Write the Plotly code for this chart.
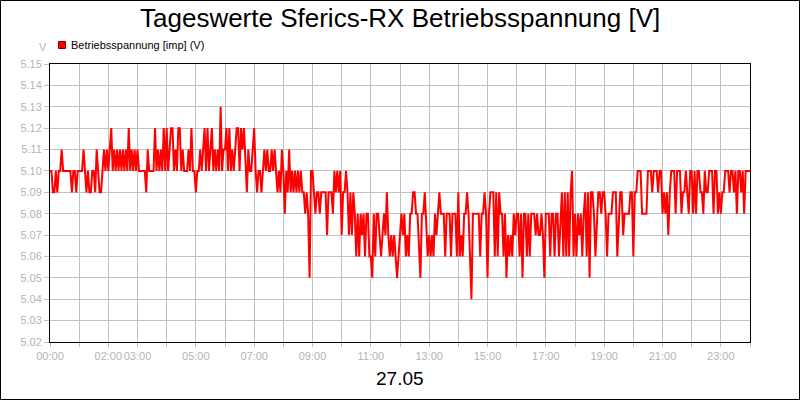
import plotly.graph_objects as go

# ---- data (3-minute samples, 00:00 .. 24:00), one list per hour ----
h00 = [5.10,5.10,5.09,5.09,5.10,5.09,5.10,5.10,5.11,5.10,5.10,5.10,5.10,5.10,5.10,5.09,5.10,5.10,5.09,5.10]
h01 = [5.10,5.10,5.10,5.11,5.10,5.09,5.10,5.09,5.09,5.10,5.10,5.09,5.11,5.10,5.09,5.09,5.10,5.11,5.10,5.11]
h02 = [5.10,5.11,5.12,5.10,5.11,5.10,5.11,5.10,5.11,5.10,5.11,5.10,5.11,5.10,5.12,5.10,5.11,5.10,5.11,5.10]
h03 = [5.11,5.10,5.10,5.10,5.10,5.10,5.09,5.11,5.10,5.10,5.10,5.10,5.12,5.10,5.11,5.10,5.11,5.10,5.12,5.10]
h04 = [5.12,5.10,5.11,5.12,5.12,5.10,5.11,5.10,5.12,5.12,5.10,5.11,5.10,5.10,5.10,5.11,5.10,5.12,5.10,5.10]
h05 = [5.09,5.10,5.10,5.11,5.10,5.11,5.12,5.10,5.12,5.10,5.11,5.12,5.10,5.11,5.10,5.11,5.10,5.13,5.10,5.11]
h06 = [5.11,5.12,5.10,5.12,5.10,5.11,5.10,5.11,5.12,5.12,5.10,5.12,5.11,5.12,5.10,5.09,5.11,5.10,5.10,5.11]
h07 = [5.12,5.10,5.09,5.10,5.10,5.09,5.10,5.11,5.10,5.11,5.10,5.10,5.11,5.10,5.11,5.10,5.09,5.10,5.09,5.11]
h08 = [5.10,5.08,5.10,5.09,5.11,5.09,5.10,5.09,5.10,5.09,5.10,5.09,5.10,5.09,5.09,5.08,5.09,5.08,5.05,5.10]
h09 = [5.10,5.09,5.08,5.09,5.09,5.08,5.09,5.09,5.09,5.09,5.07,5.09,5.09,5.09,5.08,5.10,5.09,5.10,5.09,5.10]
h10 = [5.07,5.09,5.09,5.10,5.09,5.07,5.09,5.07,5.09,5.08,5.06,5.08,5.06,5.08,5.07,5.08,5.06,5.08,5.08,5.06]
h11 = [5.06,5.05,5.08,5.06,5.08,5.08,5.07,5.06,5.07,5.08,5.07,5.09,5.07,5.06,5.07,5.06,5.07,5.06,5.05,5.06]
h12 = [5.07,5.08,5.07,5.08,5.06,5.07,5.06,5.08,5.08,5.09,5.09,5.08,5.08,5.06,5.05,5.08,5.08,5.09,5.07,5.06]
h13 = [5.07,5.06,5.07,5.06,5.08,5.07,5.08,5.09,5.08,5.08,5.08,5.06,5.08,5.08,5.08,5.06,5.08,5.08,5.08,5.06]
h14 = [5.09,5.06,5.07,5.06,5.08,5.08,5.09,5.08,5.06,5.04,5.08,5.08,5.08,5.08,5.08,5.06,5.08,5.08,5.09,5.08]
h15 = [5.05,5.08,5.09,5.09,5.09,5.06,5.09,5.06,5.09,5.08,5.08,5.06,5.08,5.05,5.07,5.06,5.07,5.06,5.08,5.07]
h16 = [5.08,5.08,5.06,5.08,5.05,5.08,5.08,5.06,5.08,5.06,5.08,5.08,5.08,5.07,5.08,5.07,5.07,5.08,5.07,5.05]
h17 = [5.08,5.08,5.08,5.06,5.08,5.08,5.06,5.08,5.08,5.06,5.08,5.09,5.06,5.09,5.06,5.09,5.06,5.09,5.10,5.06]
h18 = [5.08,5.06,5.08,5.07,5.08,5.06,5.08,5.09,5.06,5.09,5.05,5.09,5.09,5.08,5.06,5.08,5.09,5.09,5.08,5.09]
h19 = [5.09,5.08,5.06,5.08,5.08,5.08,5.09,5.09,5.09,5.06,5.08,5.09,5.09,5.07,5.08,5.08,5.08,5.08,5.09,5.09]
h20 = [5.06,5.09,5.09,5.10,5.10,5.10,5.08,5.08,5.08,5.08,5.10,5.10,5.10,5.09,5.10,5.10,5.10,5.09,5.10,5.10]
h21 = [5.08,5.09,5.08,5.09,5.07,5.09,5.10,5.10,5.10,5.08,5.10,5.10,5.10,5.08,5.09,5.09,5.10,5.09,5.08,5.10]
h22 = [5.10,5.08,5.10,5.08,5.10,5.10,5.09,5.09,5.08,5.10,5.09,5.09,5.10,5.10,5.10,5.08,5.10,5.10,5.08,5.09]
h23 = [5.08,5.09,5.09,5.10,5.10,5.10,5.09,5.10,5.10,5.09,5.10,5.08,5.10,5.10,5.09,5.10,5.08,5.10,5.10,5.10]
h24 = [5.10]

voltage = (h00 + h01 + h02 + h03 + h04 + h05 + h06 + h07 + h08 + h09 + h10 + h11 +
           h12 + h13 + h14 + h15 + h16 + h17 + h18 + h19 + h20 + h21 + h22 + h23 + h24)
hours = [i * 3 / 60 for i in range(len(voltage))]

tick_hours = list(range(25))
tick_labels = ["00:00", "", "02:00", "03:00", "", "05:00", "", "07:00", "", "09:00", "",
               "11:00", "", "13:00", "", "15:00", "", "17:00", "", "19:00", "", "21:00",
               "", "23:00", ""]
y_ticks = [5.02, 5.03, 5.04, 5.05, 5.06, 5.07, 5.08, 5.09, 5.10, 5.11, 5.12, 5.13, 5.14, 5.15]

title_text = "Tageswerte Sferics-RX Betriebsspannung [V]"
legend_text = "Betriebsspannung [imp] (V)"
date_text = "27.05"
unit_text = "V"

# ---- figure ----
W, H = 800, 400
L, R, T, B = 50, 50, 64, 58
PW, PH = W - L - R, H - T - B

def px(xp):
    return (xp - L) / PW

def py(yp):
    return (H - B - yp) / PH

FONT = "Liberation Sans, Arial, sans-serif"
GRAY = "#b4b4b4"

fig = go.Figure()
fig.add_trace(go.Scatter(x=hours, y=voltage, mode="lines",
                         line=dict(color="#ff0000", width=2), showlegend=False,
                         hoverinfo="skip"))

fig.update_layout(
    width=W, height=H,
    margin=dict(l=L, r=R, t=T, b=B, pad=0),
    paper_bgcolor="white", plot_bgcolor="white",
    font=dict(family=FONT, size=11, color=GRAY),
    xaxis=dict(range=[0, 24], tickmode="array", tickvals=tick_hours, ticktext=tick_labels,
               tickangle=0,
               showgrid=True, gridcolor="#c0c0c0", gridwidth=1,
               ticks="outside", ticklen=4, tickcolor="#c0c0c0",
               showline=True, linecolor="black", linewidth=1, mirror=True,
               zeroline=False, tickfont=dict(size=11, color=GRAY, family=FONT),
               fixedrange=True),
    yaxis=dict(range=[5.02, 5.15], tickmode="array", tickvals=y_ticks,
               ticktext=[f"{v:.2f}" for v in y_ticks],
               showgrid=True, gridcolor="#c0c0c0", gridwidth=1,
               ticks="outside", ticklen=5, tickcolor="#c0c0c0",
               showline=True, linecolor="black", linewidth=1, mirror=True,
               zeroline=False, tickfont=dict(size=11, color=GRAY, family=FONT),
               fixedrange=True),
    showlegend=False,
)

# outer border
fig.add_shape(type="rect", xref="paper", yref="paper",
              x0=px(0.5), x1=px(W - 0.5), y0=py(H - 0.5), y1=py(0.5),
              line=dict(color="black", width=1), fillcolor="rgba(0,0,0,0)", layer="above")
# legend glyph
fig.add_shape(type="rect", xref="paper", yref="paper",
              x0=px(58.5), x1=px(65.5), y0=py(48.5), y1=py(41.5),
              line=dict(color="#800000", width=1), fillcolor="#ff0000")

fig.add_annotation(text=title_text, xref="paper", yref="paper", x=px(400), y=py(18),
                   xanchor="center", yanchor="middle", showarrow=False,
                   font=dict(family=FONT, size=26, color="black"))
fig.add_annotation(text=legend_text, xref="paper", yref="paper", x=px(69), y=py(44.5),
                   xanchor="left", yanchor="middle", showarrow=False,
                   font=dict(family=FONT, size=11, color="black"))
fig.add_annotation(text=unit_text, xref="paper", yref="paper", x=px(43), y=py(47),
                   xanchor="center", yanchor="middle", showarrow=False,
                   font=dict(family=FONT, size=11, color=GRAY))
fig.add_annotation(text=date_text, xref="paper", yref="paper", x=px(400), y=py(378),
                   xanchor="center", yanchor="middle", showarrow=False,
                   font=dict(family=FONT, size=19, color="black"))

fig.write_html("out.html", config={"displayModeBar": False})
